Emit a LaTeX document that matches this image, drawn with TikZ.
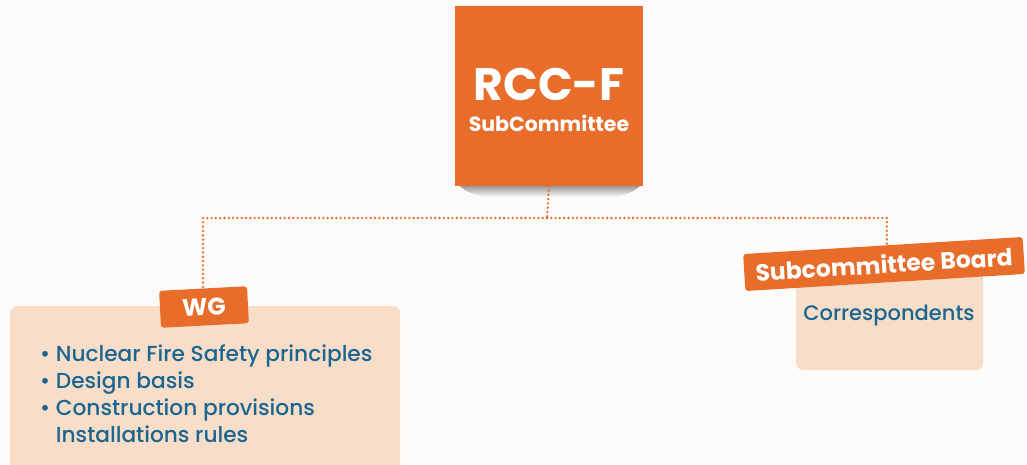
\documentclass[tikz,border=0pt]{standalone}
\usepackage{fontspec}
\setmainfont{Poppins}[UprightFont={* Medium},BoldFont={* Bold}]
\usetikzlibrary{
  calc,
  positioning,
}
\definecolor{rccorange}{RGB}{232, 108, 42}
\definecolor{rccpeach}{RGB}{248, 221, 201}
\definecolor{rccblue}{RGB}{26, 102, 144}
\definecolor{rccback}{RGB}{253, 251, 249}
\tikzstyle{tag} = [
  rectangle,
  rounded corners=3pt,
  fill=rccorange,
  text=white,
  font=\bfseries\fontsize{21}{22}\selectfont,
]
\tikzstyle{panel} = [
  rectangle,
  rounded corners=7pt,
  fill=rccpeach,
]
\tikzstyle{link} = [
  rccorange,
  line width=2.6pt,
  dash pattern=on 0pt off 4.3pt,
  line cap=round,
]
\tikzstyle{listtext} = [
  text=rccblue,
  font=\fontsize{21.7}{27}\selectfont,
  inner sep=0pt,
]

\begin{document}
\begin{tikzpicture}[x=1pt,y=-1pt]

        \fill[rccback] (0,0) rectangle (1027,464);
        \useasboundingbox (0,0) rectangle (1027,464);

        % shadow under the top box
        \shade[top color=black!40, bottom color=rccback]
          (460,186) .. controls (468,194) and (480,197) .. (500,197) -- (600,197)
          .. controls (620,197) and (632,194) .. (640,186) -- cycle;

        \node[rectangle,fill=rccorange,minimum width=188,minimum height=180] (rccbox) at (549,96) {};
        \node[anchor=base,text=white,font=\bfseries\fontsize{45.5}{50}\selectfont,inner sep=0pt] (rcctitle) at (549,100) {RCC-F};
        \node[anchor=base,text=white,font=\bfseries\fontsize{20.5}{22}\selectfont,inner sep=0pt] (rccsub) at (549,131) {SubCommittee};

        % working group
        \node[panel,minimum width=390,minimum height=180,anchor=north west] (wgpanel) at (10,306) {};
        \node[tag,minimum width=88,minimum height=37,rotate=3,font=\bfseries\fontsize{24}{24}\selectfont] (wgtag) at (204,307) {WG};
        \node[listtext,anchor=north west,align=left] (wglist) at (40,345)
          {• Nuclear Fire Safety principles\\
           • Design basis\\
           • Construction provisions\\
           \phantom{• }Installations rules};

        % subcommittee board
        \node[panel,minimum width=187,minimum height=100,anchor=north west] (boardpanel) at (796,270) {};
        \node[tag,minimum width=280,minimum height=37,rotate=3.5,font=\bfseries\fontsize{23.5}{24}\selectfont] (boardtag) at (884,264) {Subcommittee Board};
        \node[listtext,font=\fontsize{21}{27}\selectfont] (boardtext) at (889,315) {Correspondents};

        \coordinate (split) at (547,218);
        \draw[link] (rccbox.south) -- (split);
        \draw[link] (split) -| (wgtag.north);
        \draw[link] (split) -| ($(boardtag.north)+(4,0)$);

      \end{tikzpicture}
\end{document}
